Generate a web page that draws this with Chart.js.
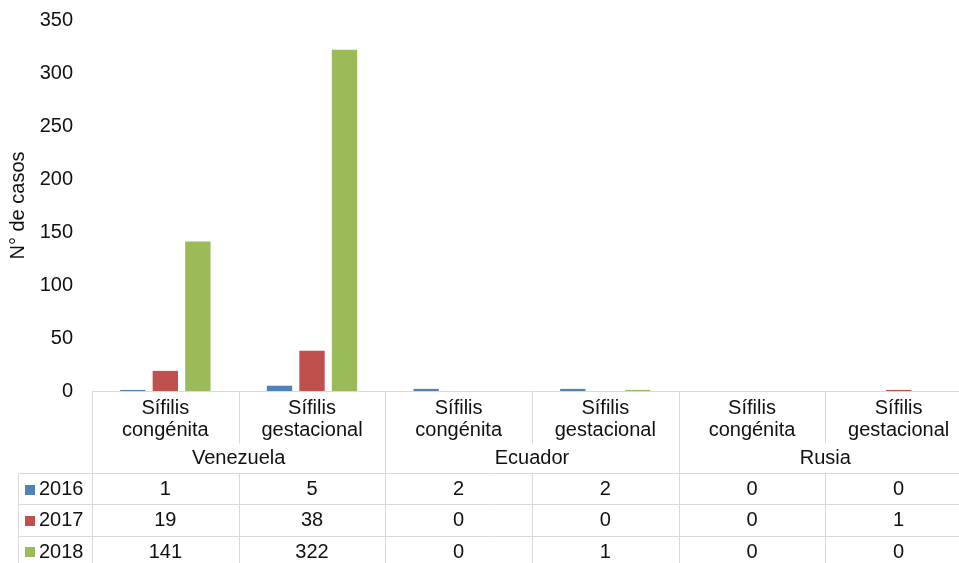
<!DOCTYPE html>
<html>
<head>
<meta charset="utf-8">
<script src="https://cdn.jsdelivr.net/npm/chart.js@4/dist/chart.umd.min.js"></script>
<style>
  html, body { margin: 0; padding: 0; background: #fff; overflow: hidden; }
  #wrap { width: 959px; height: 563px; overflow: hidden; }
  canvas { display: block; }
</style>
</head>
<body>
<div id="wrap"><canvas id="c" width="973" height="563"></canvas></div>
<script>
// Categories: each disease type per country (two text lines each)
const categories = [
  ['Sífilis', 'congénita'], ['Sífilis', 'gestacional'],
  ['Sífilis', 'congénita'], ['Sífilis', 'gestacional'],
  ['Sífilis', 'congénita'], ['Sífilis', 'gestacional']
];
const countries = ['Venezuela', 'Ecuador', 'Rusia'];
const years = ['2016', '2017', '2018'];

const cases2016 = [1, 5, 2, 2, 0, 0];
const cases2017 = [19, 38, 0, 0, 0, 1];
const cases2018 = [141, 322, 0, 1, 0, 0];

const yTicks = [0, 50, 100, 150, 200, 250, 300, 350];

const colors = ['#4F81BD', '#C0504D', '#9BBB59'];
const FONT = '"Liberation Sans", Arial, sans-serif';
const TEXT = '#111';
const LINE = '#D9D9D9';

const seriesValues = [cases2016, cases2017, cases2018];

// Data table under the plot: category labels, country row, and year rows
const dataTable = {
  id: 'dataTable',
  afterDraw(chart) {
    const ctx = chart.ctx;
    const x = chart.scales.x;
    const area = chart.chartArea;
    const n = categories.length;
    const left = x.left, right = x.right;
    const w = (right - left) / n;
    const base = area.bottom;               // table top (axis line)
    const countryTop = base + 52;            // end of category label block
    const rowTop = base + 82;                // first data row
    const rowH = 31.3;
    const bottom = rowTop + rowH * years.length;
    const legendLeft = 18;

    ctx.save();
    ctx.strokeStyle = LINE;
    ctx.lineWidth = 1;
    const line = (x1, y1, x2, y2) => {
      ctx.beginPath();
      ctx.moveTo(Math.round(x1) + 0.5, Math.round(y1) + 0.5);
      ctx.lineTo(Math.round(x2) + 0.5, Math.round(y2) + 0.5);
      ctx.stroke();
    };

    // axis line / table top
    line(left, base, right, base);
    // horizontal row lines
    for (let r = 0; r <= years.length; r++) {
      const y = rowTop + r * rowH;
      line(legendLeft, y, right, y);
    }
    // left border of the legend column
    line(legendLeft, rowTop, legendLeft, bottom);
    // vertical lines at category boundaries
    for (let i = 0; i <= n; i++) {
      const xx = left + i * w;
      if (i % 2 === 0) {
        line(xx, base, xx, bottom);
      } else {
        line(xx, base, xx, countryTop);
        line(xx, rowTop, xx, bottom);
      }
    }

    ctx.fillStyle = TEXT;
    ctx.font = '20px ' + FONT;
    ctx.textAlign = 'center';
    ctx.textBaseline = 'middle';

    // category labels
    categories.forEach((lines, i) => {
      const cx = x.getPixelForValue(i);
      lines.forEach((t, k) => ctx.fillText(t, cx, base + 17 + k * 22));
    });
    // country labels
    countries.forEach((c, g) => {
      const cx = left + (g * 2 + 1) * w;
      ctx.fillText(c, cx, base + 67);
    });
    // values
    seriesValues.forEach((vals, r) => {
      const cy = rowTop + r * rowH + rowH / 2 + 1;
      vals.forEach((v, i) => ctx.fillText(String(v), x.getPixelForValue(i), cy));
    });
    // legend keys and year labels
    ctx.textAlign = 'left';
    years.forEach((yr, r) => {
      const cy = rowTop + r * rowH + rowH / 2 + 1;
      ctx.fillStyle = colors[r];
      ctx.fillRect(25, Math.round(cy - 5), 10, 10);
      ctx.fillStyle = TEXT;
      ctx.fillText(yr, 39, cy);
    });
    ctx.restore();
  }
};

new Chart(document.getElementById('c'), {
  type: 'bar',
  data: {
    labels: categories.map(l => l.join(' ')),
    datasets: years.map((yr, i) => ({
      label: yr,
      data: seriesValues[i],
      backgroundColor: colors[i],
      borderWidth: 0,
      categoryPercentage: 0.665,
      barPercentage: 0.78
    }))
  },
  options: {
    responsive: false,
    animation: false,
    devicePixelRatio: 1,
    layout: { padding: { left: 0, right: 1, top: 20, bottom: 172 } },
    plugins: { legend: { display: false }, tooltip: { enabled: false } },
    scales: {
      x: { display: false },
      y: {
        min: 0,
        max: 350,
        afterFit(scale) { scale.width = 92; },
        afterBuildTicks(scale) { scale.ticks = yTicks.map(v => ({ value: v })); },
        grid: { display: false, drawTicks: true, tickLength: 16 },
        border: { display: false },
        ticks: {
          padding: 3,
          color: TEXT,
          font: { family: FONT, size: 20 }
        },
        title: {
          display: true,
          text: 'N° de casos',
          color: TEXT,
          font: { family: FONT, size: 20 },
          padding: { top: 6, bottom: 0 }
        }
      }
    }
  },
  plugins: [dataTable]
});
</script>
</body>
</html>
